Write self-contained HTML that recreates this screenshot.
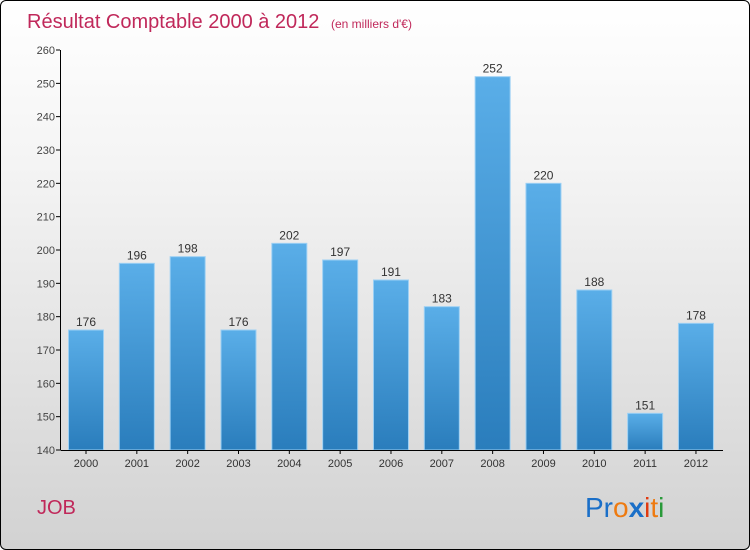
<!DOCTYPE html>
<html><head><meta charset="utf-8"><style>
body{margin:0;}
#c{position:relative;width:748px;height:548px;border:1px solid #000;border-radius:6px;overflow:hidden;background:linear-gradient(#ffffff 0%,#f4f4f4 30%,#d2d2d2 100%);font-family:"Liberation Sans",sans-serif;}
</style></head><body>
<div id="c">
<svg width="748" height="548" id="s">
<defs><linearGradient id="g" x1="0" y1="0" x2="0" y2="1"><stop offset="0" stop-color="#5aaee8"/><stop offset="1" stop-color="#2a7dbc"/></linearGradient></defs>
<text x="26" y="27" font-size="20" fill="#c0285a">Résultat Comptable 2000 à 2012 <tspan font-size="12" dx="6">(en milliers d'€)</tspan></text>
<text x="36" y="513" font-size="20" fill="#c0285a">JOB</text>
<text x="584" y="516" font-size="28"><tspan fill="#1a6fc8">Pr</tspan><tspan fill="#ee7a10">o</tspan><tspan fill="#1a6fc8" font-weight="bold">x</tspan><tspan fill="#e03a10">i</tspan><tspan fill="#ee7a10">t</tspan><tspan fill="#2a9a3a">i</tspan></text>
<g id="plot"></g>
</svg>
</div>
<script>
const categories=["2000","2001","2002","2003","2004","2005","2006","2007","2008","2009","2010","2011","2012"];
const values=[176,196,198,176,202,197,191,183,252,220,188,151,178];
const ticks=[140,150,160,170,180,190,200,210,220,230,240,250,260];
const NS="http://www.w3.org/2000/svg";
const p=document.getElementById('plot');
const y=v=>449-(v-140)*(400/120);
const x=i=>85+i*50.83;
function mk(t,a,par){const e=document.createElementNS(NS,t);for(const k in a)e.setAttribute(k,a[k]);(par||p).appendChild(e);return e;}
ticks.forEach(t=>{
 const l=mk('line',{x1:55,x2:59,y1:y(t),y2:y(t),stroke:'#000'});
 
 
 const tx=mk('text',{x:54,y:y(t)+4,'font-size':11,'text-anchor':'end',fill:'#444'});tx.textContent=t;
 
 
});
values.forEach((v,i)=>{
 const r=mk('rect',{x:x(i)-17.5,y:y(v),width:35,height:y(140)-y(v),fill:'url(#g)',stroke:'#9cd0f4','stroke-width':1});
 
 
 const tx=mk('text',{x:x(i),y:y(v)-4,'font-size':12,'text-anchor':'middle',fill:'#333'});tx.textContent=v;
 
 
 const tk=mk('line',{x1:x(i),x2:x(i),y1:449,y2:453,stroke:'#000'});
 
 
 const c=mk('text',{x:x(i),y:466,'font-size':11,'text-anchor':'middle',fill:'#333'});c.textContent=categories[i];
 
 
});
const ya=mk('line',{x1:59.5,x2:59.5,y1:y(260),y2:449,stroke:'#000'});


const xa=mk('line',{x1:59.5,x2:722,y1:449.5,y2:449.5,stroke:'#000'});


</script>
</body></html>
